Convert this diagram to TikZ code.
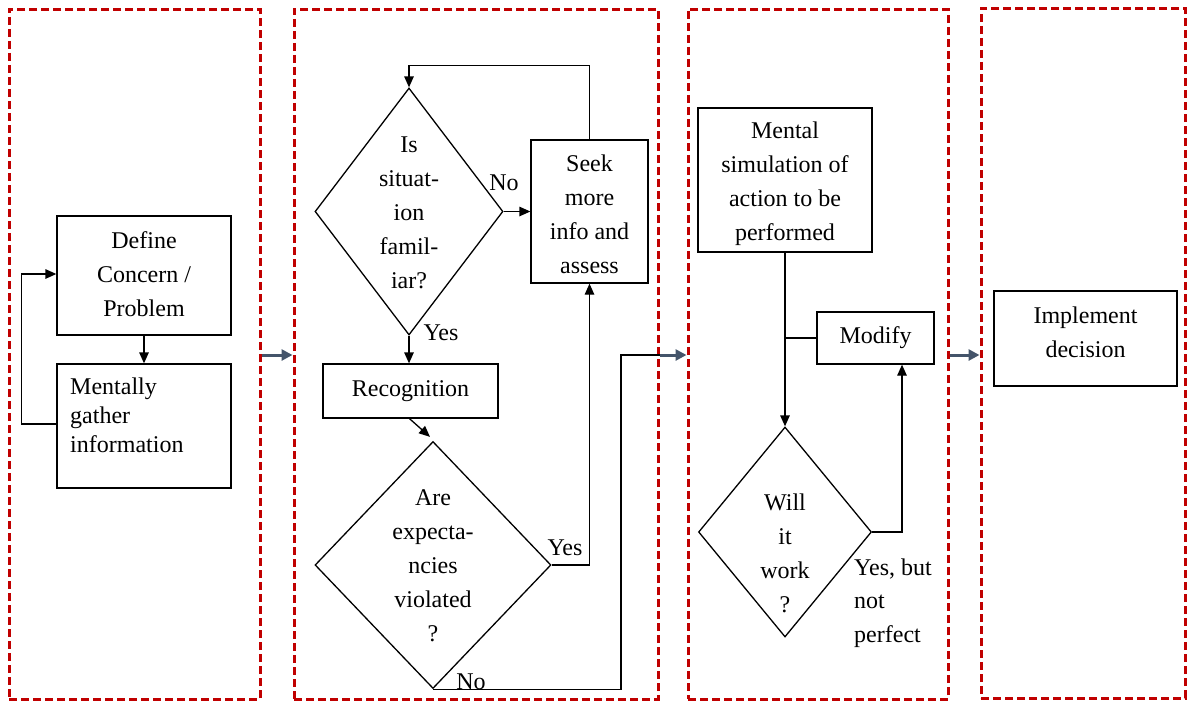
\documentclass[tikz,border=0pt]{standalone}
\usepackage{fontspec}
\setmainfont{Liberation Serif}
\usetikzlibrary{shapes.geometric,arrows.meta}
\definecolor{panelred}{HTML}{C00000}
\definecolor{slate}{HTML}{44546A}
% centred lines of text, drawn lowered by #1 while keeping the natural box size
\newcommand\stackedtext[2]{\raisebox{#1}[\height][\depth]{\begin{tabular}{@{}c@{}}#2\end{tabular}}}
\begin{document}
\begin{tikzpicture}[x=1pt,y=-1pt,
  panel/.style={draw=panelred,dashed,dash pattern=on 8pt off 4pt,line width=3pt,inner sep=0pt,minimum height=690pt},
  box/.style={draw,line width=1.3pt,inner sep=0pt,font=\fontsize{24}{34}\selectfont},
  decision/.style={draw,shape=diamond,line width=1.3pt,inner sep=0pt},
  dtext/.style={align=center,inner sep=0pt,font=\fontsize{24}{34}\selectfont},
  lbl/.style={inner sep=0pt,font=\fontsize{24}{34}\selectfont},
  arr/.style={line width=1.3pt,-{Triangle[length=11pt,width=9.5pt]}},
  link/.style={line width=1.3pt},
  stage/.style={draw=slate,line width=3pt,-{Triangle[length=11pt,width=11pt]}}]
\useasboundingbox (0,0) rectangle (1188,704);

% four dashed stages
\node[panel,minimum width=251pt] (p1) at (134.5,354) {};
\node[panel,minimum width=364pt] (p2) at (476,354) {};
\node[panel,minimum width=260pt] (p3) at (818,354) {};
\node[panel,minimum width=204pt] (p4) at (1083,353) {};
\coordinate (mid) at (0,355);

% stage 1
\node[box,minimum width=174pt,minimum height=119pt] (define) at (144,275.5) {\stackedtext{0pt}{Define\\Concern /\\Problem}};
\node[box,minimum width=174pt,minimum height=124pt] (gather) at (144,426) {};
\node[lbl,align=left,anchor=north west,font=\fontsize{24}{29}\selectfont] (gathertxt) at (70,378) {Mentally\\gather\\information};
\draw[arr] (define.south) -- (gather.north);
\draw[arr] ([yshift=2pt]gather.west) -- ++(-35,0) |- ([yshift=1.5pt]define.west);

% stage 2
\node[decision,minimum width=188pt,minimum height=247pt] (d1) at (409,211.5) {};
\node[dtext] (d1txt) at (409,212.5) {Is\\situat-\\ion\\famil-\\iar?};
\node[box,minimum width=117pt,minimum height=143pt] (seek) at (589.5,211.5) {\stackedtext{-4.5pt}{Seek\\more\\info and\\assess}};
\node[box,minimum width=175pt,minimum height=54pt] (recog) at (410.5,391) {Recognition};
\node[decision,minimum width=236pt,minimum height=247pt] (d2) at (433,565) {};
\node[dtext] (d2txt) at (433,566) {Are\\expecta-\\ncies\\violated\\?};

\draw[arr] (d1.east) -- (seek.west);
\draw[arr] (seek.north) -- ++(0,-74) -| (d1.north);
\draw[arr] (d1.south) -- (d1.south |- recog.north);
\draw[arr] ([xshift=-1pt]recog.south) -- ([shift={(-3,-4)}]d2.north);
\draw[arr] (d2.east) -| (seek.south);
\draw[link] (d2.south) -- ++(188,0) |- (p2.east |- mid);

\node[lbl] (no1) at (504,183) {No};
\node[lbl] (yes1) at (441,333) {Yes};
\node[lbl] (yes2) at (565,548) {Yes};
\node[lbl] (no2) at (471,682) {No};

% stage 3
\node[box,minimum width=174pt,minimum height=144pt] (sim) at (785,180) {\stackedtext{-2.5pt}{Mental\\simulation of\\action to be\\performed}};
\node[box,minimum width=117pt,minimum height=52pt] (modify) at (875.5,338) {Modify};
\node[decision,minimum width=173pt,minimum height=210pt] (d3) at (785,532) {};
\node[dtext] (d3txt) at (785,553.5) {Will\\it\\work\\?};
\draw[arr] (sim.south) -- (d3.north);
\draw[link] (modify.west) -- (sim.south |- modify.west);
\draw[arr] (d3.east) -| ([xshift=26.5pt]modify.south);
\node[lbl,align=left,anchor=west,font=\fontsize{24}{33.5}\selectfont] (partial) at (854,603) {Yes, but\\not\\perfect};

% stage 4
\node[box,minimum width=183pt,minimum height=95pt] (implement) at (1085.5,338.5) {\stackedtext{5pt}{Implement\\decision}};

% transitions between stages
\draw[stage] (p1.east |- mid) -- (p2.west |- mid);
\draw[stage] (p2.east |- mid) -- (p3.west |- mid);
\draw[stage] (p3.east |- mid) -- (p4.west |- mid);
\end{tikzpicture}
\end{document}
